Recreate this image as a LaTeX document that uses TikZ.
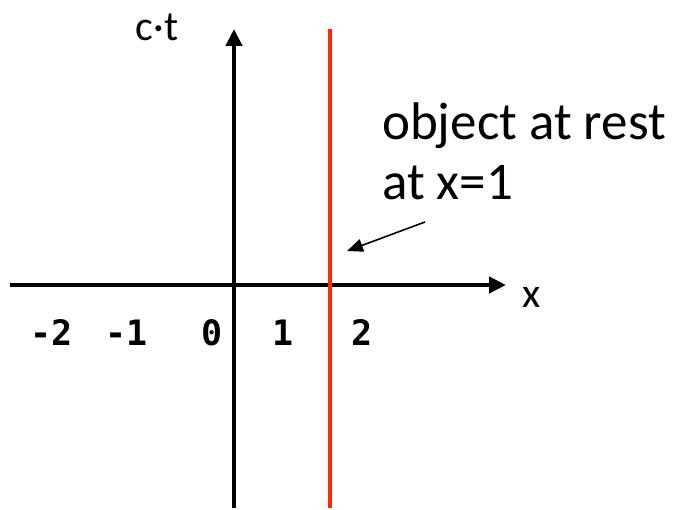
\documentclass[tikz,border=0pt]{standalone}
\usepackage{fontspec}
\setmainfont{Carlito}
\newfontfamily\numfont{DejaVu Sans Mono}
\usetikzlibrary{arrows.meta}
\tikzset{
  axis/.style={line width=4.5pt, -{Triangle[length=17pt,width=16pt]}},
  restline/.style={line width=4.5pt, draw={rgb,255:red,255;green,40;blue,0}},
  lbl/.style={font=\fontsize{42}{48}\selectfont, inner sep=0pt},
  note/.style={font=\fontsize{53}{60}\selectfont, inner sep=0pt, anchor=base west},
  tick/.style={font=\numfont\bfseries\fontsize{35}{40}\selectfont, inner sep=0pt},
  pointer/.style={line width=1.6pt, -{Triangle[length=16pt,width=13pt]}}
}
\begin{document}
\begin{tikzpicture}[x=1pt,y=1pt]
\useasboundingbox (0,0) rectangle (677,509);
\fill[white] (0,0) rectangle (677,509);
\coordinate (xs) at (10,224);
\coordinate (xe) at (506,224);
\coordinate (ys) at (234,1);
\coordinate (ye) at (234,480);
\coordinate (rs) at (330,1);
\coordinate (re) at (330,480);
\draw[axis] (xs) -- (xe);
\draw[axis] (ys) -- (ye);
\draw[restline] (rs) -- (re);
\node[lbl] (ct) at (157,482) {c·t};
\node[lbl] (xl) at (532,212) {x};
\node[tick] (m2) at (52,176) {-2};
\node[tick] (m1) at (127,176) {-1};
\node[tick] (z0) at (212,176) {0};
\node[tick] (p1) at (283,176) {1};
\node[tick] (p2) at (362,176) {2};
\node[note] (n1) at (382,369) {object at rest};
\node[note] (n2) at (382,309) {at x=1};
\coordinate (pa) at (425,287);
\coordinate (pb) at (347,258);
\draw[pointer] (pa) -- (pb);
\end{tikzpicture}
\end{document}
